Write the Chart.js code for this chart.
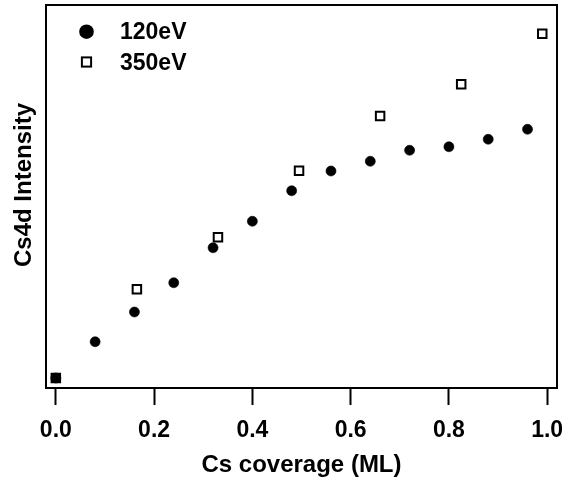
<!DOCTYPE html>
<html>
<head>
<meta charset="utf-8">
<script src="https://cdn.jsdelivr.net/npm/chart.js@4/dist/chart.umd.min.js"></script>
<style>
  body { margin: 0; background: #fff; }
  #wrap { width: 568px; height: 485px; }
</style>
</head>
<body>
<div id="wrap"><canvas id="cChart" width="568" height="485"></canvas></div>
<script>
// coverage (ML) and Cs4d intensity (arb. units)
const cov120 = [0, 0.08, 0.16, 0.24, 0.32, 0.40, 0.48, 0.56, 0.64, 0.72, 0.80, 0.88, 0.96];
const int120 = [0, 0.145, 0.264, 0.381, 0.521, 0.627, 0.749, 0.828, 0.867, 0.911, 0.925, 0.955, 0.995];
const cov350 = [0, 0.165, 0.33, 0.495, 0.66, 0.825, 0.99];
const int350 = [0, 0.355, 0.563, 0.829, 1.048, 1.175, 1.377];
const xTicks = [0, 0.2, 0.4, 0.6, 0.8, 1.0];
const seriesNames = ['120eV', '350eV'];

const FONT = '"Liberation Sans", Arial, Helvetica, sans-serif';
Chart.defaults.font.family = FONT;
Chart.defaults.font.weight = 'bold';
Chart.defaults.font.size = 23;
Chart.defaults.color = '#000';

function pts(xs, ys) {
    return xs.map((x, i) => ({ x: x, y: ys[i] }));
}

function noPad(s) {
    s.paddingLeft = 0;
    s.paddingRight = 0;
    s.paddingTop = 0;
    s.paddingBottom = 0;
}

// box around the plot, legend inside and y title
const extras = {
    id: 'extras',
    afterDraw(chart) {
        const ctx = chart.ctx;
        const a = chart.chartArea;
        ctx.save();
        ctx.strokeStyle = '#000';
        ctx.lineWidth = 2;
        ctx.strokeRect(a.left, a.top, a.right - a.left, a.bottom - a.top);

        // legend
        ctx.font = 'bold 23px ' + FONT;
        ctx.textBaseline = 'middle';
        ctx.fillStyle = '#000';
        const lx = a.left + 40.5;
        ctx.beginPath();
        ctx.arc(lx, a.top + 26.7, 7.3, 0, Math.PI * 2);
        ctx.fill();
        ctx.lineWidth = 2;
        ctx.strokeRect(lx - 4.6, a.top + 57 - 4.6, 9.2, 9.2);
        ctx.fillText(chart.data.datasets[0].label, a.left + 74, a.top + 28);
        ctx.fillText(chart.data.datasets[1].label, a.left + 74, a.top + 59);

        // y title
        ctx.font = 'bold 24px ' + FONT;
        ctx.translate(24, 185);
        ctx.rotate(-Math.PI / 2);
        ctx.textAlign = 'center';
        ctx.fillText('Cs4d Intensity', 0, 0);
        ctx.restore();
    }
};

var ct = document.getElementById('cChart').getContext('2d');

var cChart = new Chart(ct, {
    type: 'scatter',
    data: {
        datasets: [{
            label: seriesNames[0],
            data: pts(cov120, int120),
            pointStyle: 'circle',
            pointRadius: 5,
            backgroundColor: '#000',
            borderColor: '#000',
            borderWidth: 0.6
        }, {
            label: seriesNames[1],
            data: pts(cov350, int350),
            pointStyle: 'rect',
            pointRadius: 6,
            backgroundColor: '#fff',
            borderColor: '#000',
            borderWidth: 2
        }]
    },
    options: {
        responsive: false,
        animation: false,
        layout: { autoPadding: false, padding: { top: 5, right: 11, left: 0, bottom: 0 } },
        plugins: {
            legend: { display: false },
            tooltip: { enabled: false }
        },
        scales: {
            x: {
                type: 'linear',
                min: -0.02,
                max: 1.02,
                afterBuildTicks: (s) => { s.ticks = xTicks.map(v => ({ value: v })); },
                afterFit: (s) => { s.height = 97; noPad(s); },
                ticks: {
                    padding: 12,
                    callback: (v) => v.toFixed(1)
                },
                grid: {
                    drawOnChartArea: false,
                    drawTicks: true,
                    tickLength: 17,
                    tickWidth: 2,
                    tickColor: '#000'
                },
                border: { display: true, color: '#000', width: 2 },
                title: {
                    display: true,
                    text: 'Cs coverage (ML)',
                    font: { size: 24 },
                    padding: { top: 0, bottom: 5 }
                }
            },
            y: {
                min: -0.04,
                max: 1.492,
                afterFit: (s) => { s.width = 46; noPad(s); },
                ticks: { display: false },
                grid: { display: false },
                border: { display: true, color: '#000', width: 2 }
            }
        }
    },
    plugins: [extras]
});
</script>
</body>
</html>
